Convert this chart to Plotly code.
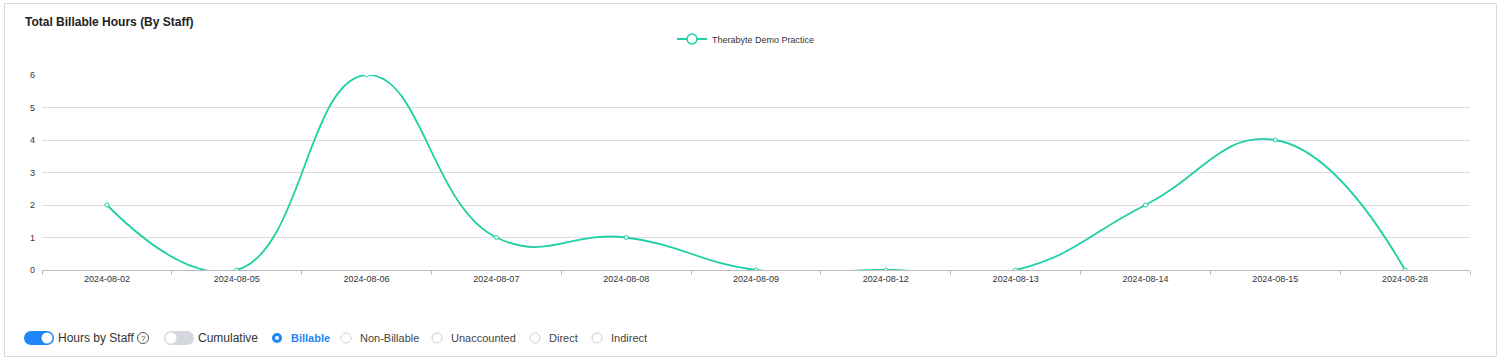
import plotly.graph_objects as go

dates = ["2024-08-02", "2024-08-05", "2024-08-06", "2024-08-07", "2024-08-08",
         "2024-08-09", "2024-08-12", "2024-08-13", "2024-08-14", "2024-08-15", "2024-08-28"]
hours = [2, 0, 6, 1, 1, 0, 0, 0, 2, 4, 0]
series_name = "Therabyte Demo Practice"
y_ticks = [0, 1, 2, 3, 4, 5, 6]
radio_labels = ["Billable", "Non-Billable", "Unaccounted", "Direct", "Indirect"]

W, H = 1503, 360
# plot area in page pixels
PL, PR, PT, PB = 42, 1470, 75, 270
GREEN = "#1fd0a6"
BLUE = "#1f86f7"
FONT = "Liberation Sans, Arial, Helvetica, sans-serif"

def px(x):
    return (x - PL) / (PR - PL)

def py(y):
    return (PB - y) / (PB - PT)

fig = go.Figure()
fig.add_trace(go.Scatter(
    x=dates, y=hours, name=series_name, mode="lines+markers",
    line=dict(color=GREEN, width=1.8, shape="spline", smoothing=1.3),
    marker=dict(size=4, color="white", line=dict(color=GREEN, width=1)),
    showlegend=False, legendgroup="s",
))
# legend entry (larger hollow marker like the original)
fig.add_trace(go.Scatter(
    x=[None], y=[None], name=series_name, mode="lines+markers",
    line=dict(color=GREEN, width=1.8),
    marker=dict(size=10, color="white", line=dict(color=GREEN, width=1.5)),
    showlegend=True, legendgroup="s", hoverinfo="skip",
))

shapes = []
annotations = []

# card border
shapes.append(dict(type="rect", xref="paper", yref="paper",
                   x0=px(4.5), x1=px(1496.5), y0=py(356.5), y1=py(3.5),
                   line=dict(color="#d9d9d9", width=1), fillcolor="rgba(0,0,0,0)", layer="below"))

# title
annotations.append(dict(xref="paper", yref="paper", x=px(23), y=py(22), xanchor="left", yanchor="middle",
                        text="<b>Total Billable Hours (By Staff)</b>", showarrow=False,
                        font=dict(size=12, color="#222", family=FONT)))

def circle(cx, cy, r, fill, line_color=None, lw=1):
    shapes.append(dict(type="circle", xref="paper", yref="paper",
                       x0=px(cx - r), x1=px(cx + r), y0=py(cy + r), y1=py(cy - r),
                       fillcolor=fill, line=dict(color=line_color or fill, width=lw if line_color else 0)))

def pill(x0, x1, cy, h, fill):
    r = h / 2
    shapes.append(dict(type="rect", xref="paper", yref="paper",
                       x0=px(x0 + r), x1=px(x1 - r), y0=py(cy + r), y1=py(cy - r),
                       fillcolor=fill, line=dict(width=0)))
    circle(x0 + r, cy, r, fill)
    circle(x1 - r, cy, r, fill)

cy = 338
# toggle 1 (on)
pill(24, 54, cy, 14, BLUE)
circle(47, cy, 5.5, "white")
annotations.append(dict(xref="paper", yref="paper", x=px(56), y=py(cy), xanchor="left", yanchor="middle",
                        text="Hours by Staff", showarrow=False, font=dict(size=12, color="#333", family=FONT)))
circle(143, cy, 5.5, "white", "#555", 1)
annotations.append(dict(xref="paper", yref="paper", x=px(143), y=py(cy), xanchor="center", yanchor="middle",
                        text="?", showarrow=False, font=dict(size=8, color="#444", family=FONT)))
# toggle 2 (off)
pill(164, 194, cy, 14, "#d5d8de")
circle(171, cy, 5.5, "white")
annotations.append(dict(xref="paper", yref="paper", x=px(196), y=py(cy), xanchor="left", yanchor="middle",
                        text="Cumulative", showarrow=False, font=dict(size=12, color="#333", family=FONT)))

radio_x = [277, 346, 437, 535, 597]
for i, (lab, rx) in enumerate(zip(radio_labels, radio_x)):
    if i == 0:
        circle(rx, cy, 5, BLUE)
        circle(rx, cy, 2, "white")
        col = BLUE
        txt = "<b>" + lab + "</b>"
    else:
        circle(rx, cy, 5, "white", "#cfcfcf", 1)
        col = "#444"
        txt = lab
    annotations.append(dict(xref="paper", yref="paper", x=px(rx + 12), y=py(cy), xanchor="left", yanchor="middle",
                            text=txt, showarrow=False, font=dict(size=11, color=col, family=FONT)))

fig.update_layout(
    width=W, height=H,
    margin=dict(l=PL, r=W - PR, t=PT, b=H - PB, autoexpand=False),
    paper_bgcolor="white", plot_bgcolor="white",
    font=dict(family=FONT, size=9, color="#333"),
    showlegend=True,
    legend=dict(orientation="h", x=px(672), xanchor="left", y=py(39), yanchor="middle",
                font=dict(size=9, color="#333"), bgcolor="rgba(0,0,0,0)", itemwidth=30),
    xaxis=dict(type="category", range=[-0.5, len(dates) - 0.5], autorange=False,
               showgrid=False, showline=True, linecolor="#bdbdbd", linewidth=1,
               ticks="outside", tickson="boundaries", ticklen=4, tickcolor="#bdbdbd",
               tickfont=dict(size=9, color="#333"), fixedrange=True, automargin=False),
    yaxis=dict(range=[0, 6], tickvals=y_ticks, showgrid=True, gridcolor="#dcdcdc", gridwidth=1,
               zeroline=False, showline=False, ticks="", ticklabelstandoff=6,
               tickfont=dict(size=9, color="#333"), fixedrange=True, automargin=False),
    shapes=shapes, annotations=annotations,
)

fig.write_html("out.html", config={"displayModeBar": False},
               post_script="document.body.style.margin='0';document.body.style.overflow='hidden';")
